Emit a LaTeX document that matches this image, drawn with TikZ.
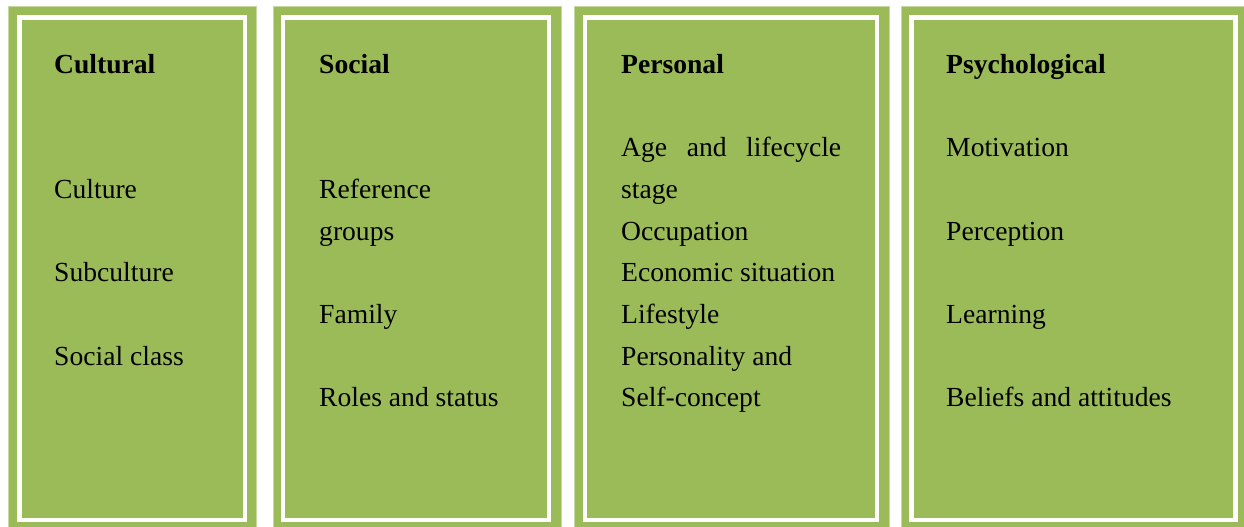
\documentclass[tikz,border=0pt]{standalone}
\usepackage{fontspec}
\setmainfont{Liberation Serif}
\definecolor{panelgreen}{HTML}{9BBB59}
\definecolor{paneledge}{HTML}{C5D9A0}
\begin{document}
\begin{tikzpicture}[x=1pt,y=-1pt,
  panel/.style={fill=panelgreen,draw=paneledge,line width=0.8pt},
  frame/.style={draw=white,line width=4.6pt},
  head/.style={anchor=base west,inner sep=0pt,font=\fontsize{27.6}{33}\selectfont\bfseries},
  item/.style={anchor=base west,inner sep=0pt,font=\fontsize{27.6}{33}\selectfont}]
\useasboundingbox (0,0) rectangle (1244,527);
\fill[white] (0,0) rectangle (1244,527);

% four panels with an inset white frame
\path[panel] (8,6) rectangle (256,530);
\draw[frame] (19.5,17.5) rectangle (245,520);
\path[panel] (273,6) rectangle (561,530);
\draw[frame] (283,17.5) rectangle (549,520);
\path[panel] (574,6) rectangle (889,530);
\draw[frame] (585,17.5) rectangle (877,520);
\path[panel] (901,6) rectangle (1250,530);
\draw[frame] (911.5,17.5) rectangle (1235.5,520);

% Cultural
\node[head] (h1) at (54,74) {Cultural};
\node[item] (c1) at (54,198.3) {Culture};
\node[item] (c2) at (54,281.7) {Subculture};
\node[item] (c3) at (54,365) {Social class};

% Social
\node[head] (h2) at (319,74) {Social};
\node[item] (s1) at (319,198.3) {Reference};
\node[item] (s1b) at (319,240) {groups};
\node[item] (s2) at (319,323.3) {Family};
\node[item] (s3) at (319,406.7) {Roles and status};

% Personal
\node[head] (h3) at (621,74) {Personal};
\node[item] (p1) at (621,156.7) {\hbox to 220pt{Age\hfill and\hfill lifecycle}};
\node[item] (p1b) at (621,198.3) {stage};
\node[item] (p2) at (621,240) {Occupation};
\node[item] (p3) at (621,281.7) {Economic situation};
\node[item] (p4) at (621,323.3) {Lifestyle};
\node[item] (p5) at (621,365) {Personality and};
\node[item] (p5b) at (621,406.7) {Self-concept};

% Psychological
\node[head] (h4) at (946,74) {Psychological};
\node[item] (q1) at (946,156.7) {Motivation};
\node[item] (q2) at (946,240) {Perception};
\node[item] (q3) at (946,323.3) {Learning};
\node[item] (q4) at (946,406.7) {Beliefs and attitudes};
\end{tikzpicture}
\end{document}
